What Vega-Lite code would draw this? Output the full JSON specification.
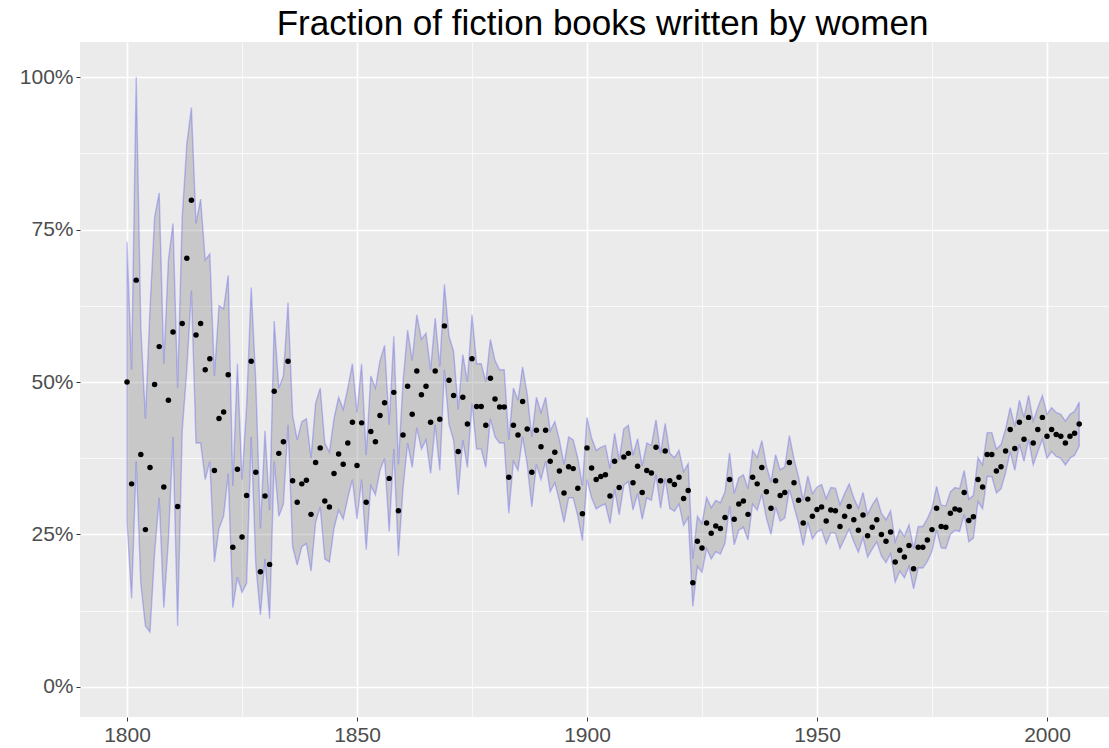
{
  "$schema": "https://vega.github.io/schema/vega-lite/v6.json",
  "width": 1029,
  "height": 675,
  "autosize": {"type": "none"},
  "padding": {"left": 80, "top": 42, "right": 0, "bottom": 31},
  "background": "white",
  "title": {
    "text": "Fraction of fiction books written by women",
    "font": "Liberation Sans",
    "fontSize": 35,
    "fontWeight": "normal",
    "color": "#000000",
    "anchor": "middle",
    "baseline": "alphabetic",
    "offset": 0,
    "dx": 8,
    "dy": 28
  },
  "config": {
    "view": {"fill": "#EBEBEB", "stroke": null},
    "axis": {
      "labelFont": "Liberation Sans",
      "labelFontSize": 21,
      "labelColor": "#4D4D4D",
      "domain": false,
      "tickSize": 4,
      "tickWidth": 1,
      "labelPadding": 3,
      "title": null
    }
  },
  "data": {
    "values": [
      {"year":1800,"p":50.0,"lo":27,"hi":73},
      {"year":1801,"p":33.3,"lo":14.5,"hi":52},
      {"year":1802,"p":66.7,"lo":37,"hi":100},
      {"year":1803,"p":38.1,"lo":17,"hi":59},
      {"year":1804,"p":25.8,"lo":10,"hi":44},
      {"year":1805,"p":36.0,"lo":9,"hi":62},
      {"year":1806,"p":49.6,"lo":22,"hi":77},
      {"year":1807,"p":55.8,"lo":31,"hi":81},
      {"year":1808,"p":32.8,"lo":13,"hi":53},
      {"year":1809,"p":47.0,"lo":24,"hi":70},
      {"year":1810,"p":58.2,"lo":41,"hi":76},
      {"year":1811,"p":29.6,"lo":10,"hi":49},
      {"year":1812,"p":59.6,"lo":42,"hi":77},
      {"year":1813,"p":70.3,"lo":52,"hi":89},
      {"year":1814,"p":79.8,"lo":65,"hi":95},
      {"year":1815,"p":57.7,"lo":40,"hi":76},
      {"year":1816,"p":59.6,"lo":40,"hi":80},
      {"year":1817,"p":52.0,"lo":34,"hi":70},
      {"year":1818,"p":53.8,"lo":37,"hi":71},
      {"year":1819,"p":35.5,"lo":20.5,"hi":51},
      {"year":1820,"p":44.0,"lo":26,"hi":62.5},
      {"year":1821,"p":45.1,"lo":28,"hi":62},
      {"year":1822,"p":51.2,"lo":35,"hi":67.5},
      {"year":1823,"p":22.9,"lo":13,"hi":33},
      {"year":1824,"p":35.7,"lo":18,"hi":53},
      {"year":1825,"p":24.6,"lo":15.5,"hi":34},
      {"year":1826,"p":31.4,"lo":17,"hi":46},
      {"year":1827,"p":53.4,"lo":41,"hi":65.5},
      {"year":1828,"p":35.2,"lo":20,"hi":50},
      {"year":1829,"p":18.9,"lo":11.8,"hi":26},
      {"year":1830,"p":31.3,"lo":21,"hi":42},
      {"year":1831,"p":20.1,"lo":11.2,"hi":29},
      {"year":1832,"p":48.5,"lo":37,"hi":60},
      {"year":1833,"p":38.3,"lo":28,"hi":49},
      {"year":1834,"p":40.2,"lo":30,"hi":51},
      {"year":1835,"p":53.4,"lo":43,"hi":63},
      {"year":1836,"p":33.8,"lo":23,"hi":44.5},
      {"year":1837,"p":30.3,"lo":20,"hi":40.5},
      {"year":1838,"p":33.3,"lo":23,"hi":43.5},
      {"year":1839,"p":33.9,"lo":23.5,"hi":44},
      {"year":1840,"p":28.3,"lo":19,"hi":37.5},
      {"year":1841,"p":36.8,"lo":27,"hi":46.5},
      {"year":1842,"p":39.2,"lo":29.5,"hi":49},
      {"year":1843,"p":30.5,"lo":21,"hi":40},
      {"year":1844,"p":29.5,"lo":20.5,"hi":38.5},
      {"year":1845,"p":35.0,"lo":26,"hi":44},
      {"year":1846,"p":38.2,"lo":29,"hi":47.5},
      {"year":1847,"p":36.5,"lo":27.5,"hi":45.5},
      {"year":1848,"p":40.0,"lo":31,"hi":49},
      {"year":1849,"p":43.4,"lo":34,"hi":53},
      {"year":1850,"p":36.3,"lo":27.5,"hi":45},
      {"year":1851,"p":43.3,"lo":34,"hi":53},
      {"year":1852,"p":30.3,"lo":22.5,"hi":38},
      {"year":1853,"p":41.9,"lo":33,"hi":51},
      {"year":1854,"p":40.2,"lo":31.5,"hi":49},
      {"year":1855,"p":44.5,"lo":35.5,"hi":53.5},
      {"year":1856,"p":46.6,"lo":37.5,"hi":56},
      {"year":1857,"p":34.2,"lo":25.5,"hi":43},
      {"year":1858,"p":48.3,"lo":39,"hi":57.5},
      {"year":1859,"p":28.9,"lo":21.5,"hi":36.5},
      {"year":1860,"p":41.3,"lo":32.5,"hi":50},
      {"year":1861,"p":49.3,"lo":40,"hi":58.5},
      {"year":1862,"p":44.7,"lo":36,"hi":53.5},
      {"year":1863,"p":51.8,"lo":42.5,"hi":61},
      {"year":1864,"p":47.9,"lo":39,"hi":57},
      {"year":1865,"p":49.3,"lo":40.5,"hi":58},
      {"year":1866,"p":43.4,"lo":35,"hi":52},
      {"year":1867,"p":51.8,"lo":43,"hi":60.5},
      {"year":1868,"p":43.9,"lo":35.5,"hi":52.5},
      {"year":1869,"p":59.2,"lo":52,"hi":66},
      {"year":1870,"p":50.3,"lo":43,"hi":57.5},
      {"year":1871,"p":47.8,"lo":40.5,"hi":55},
      {"year":1872,"p":38.6,"lo":31.5,"hi":45.5},
      {"year":1873,"p":47.5,"lo":40.5,"hi":54.5},
      {"year":1874,"p":43.1,"lo":36,"hi":50},
      {"year":1875,"p":53.8,"lo":46.5,"hi":61},
      {"year":1876,"p":46.0,"lo":39,"hi":53},
      {"year":1877,"p":46.0,"lo":39,"hi":53},
      {"year":1878,"p":42.9,"lo":36,"hi":50},
      {"year":1879,"p":50.6,"lo":44,"hi":57},
      {"year":1880,"p":47.2,"lo":41,"hi":53.5},
      {"year":1881,"p":45.9,"lo":40,"hi":52},
      {"year":1882,"p":45.9,"lo":40,"hi":52},
      {"year":1883,"p":34.4,"lo":28.5,"hi":40.5},
      {"year":1884,"p":42.9,"lo":37,"hi":49},
      {"year":1885,"p":41.3,"lo":35.5,"hi":47},
      {"year":1886,"p":46.8,"lo":41,"hi":52.5},
      {"year":1887,"p":42.3,"lo":36.5,"hi":48},
      {"year":1888,"p":35.2,"lo":29.5,"hi":41},
      {"year":1889,"p":42.1,"lo":36.5,"hi":47.5},
      {"year":1890,"p":39.4,"lo":34,"hi":45},
      {"year":1891,"p":42.1,"lo":37,"hi":47.5},
      {"year":1892,"p":37.0,"lo":32,"hi":42},
      {"year":1893,"p":38.5,"lo":33.5,"hi":43.5},
      {"year":1894,"p":35.4,"lo":30.5,"hi":40.5},
      {"year":1895,"p":31.8,"lo":27,"hi":36.5},
      {"year":1896,"p":36.1,"lo":31,"hi":41},
      {"year":1897,"p":35.8,"lo":31,"hi":40.5},
      {"year":1898,"p":32.6,"lo":28,"hi":37.5},
      {"year":1899,"p":28.4,"lo":24,"hi":33},
      {"year":1900,"p":39.2,"lo":34,"hi":44.2},
      {"year":1901,"p":35.9,"lo":31,"hi":40.8},
      {"year":1902,"p":34.0,"lo":29.2,"hi":38.8},
      {"year":1903,"p":34.5,"lo":29.7,"hi":39.3},
      {"year":1904,"p":34.8,"lo":30,"hi":39.6},
      {"year":1905,"p":31.3,"lo":26.8,"hi":35.8},
      {"year":1906,"p":37.0,"lo":32.4,"hi":41.6},
      {"year":1907,"p":32.7,"lo":28.2,"hi":37.2},
      {"year":1908,"p":37.7,"lo":33.1,"hi":42.3},
      {"year":1909,"p":38.3,"lo":33.7,"hi":42.9},
      {"year":1910,"p":33.5,"lo":29,"hi":38},
      {"year":1911,"p":36.2,"lo":31.7,"hi":40.7},
      {"year":1912,"p":31.9,"lo":27.5,"hi":36.3},
      {"year":1913,"p":35.5,"lo":31,"hi":40},
      {"year":1914,"p":35.1,"lo":30.6,"hi":39.6},
      {"year":1915,"p":39.3,"lo":34.8,"hi":43.8},
      {"year":1916,"p":33.8,"lo":29.3,"hi":38.3},
      {"year":1917,"p":38.7,"lo":34.2,"hi":43.2},
      {"year":1918,"p":33.8,"lo":29.3,"hi":38.3},
      {"year":1919,"p":33.2,"lo":28.8,"hi":37.6},
      {"year":1920,"p":34.4,"lo":30,"hi":38.8},
      {"year":1921,"p":30.9,"lo":26.5,"hi":35.3},
      {"year":1922,"p":32.2,"lo":27.8,"hi":36.6},
      {"year":1923,"p":17.1,"lo":13.2,"hi":21},
      {"year":1924,"p":23.9,"lo":19.8,"hi":28},
      {"year":1925,"p":22.8,"lo":18.8,"hi":26.8},
      {"year":1926,"p":26.9,"lo":22.7,"hi":31.1},
      {"year":1927,"p":25.2,"lo":21,"hi":29.4},
      {"year":1928,"p":26.4,"lo":22.2,"hi":30.6},
      {"year":1929,"p":26.0,"lo":21.8,"hi":30.2},
      {"year":1930,"p":27.8,"lo":23.6,"hi":32},
      {"year":1931,"p":34.0,"lo":29.6,"hi":38.4},
      {"year":1932,"p":27.5,"lo":23.3,"hi":31.7},
      {"year":1933,"p":30.0,"lo":25.7,"hi":34.3},
      {"year":1934,"p":30.5,"lo":26.2,"hi":34.8},
      {"year":1935,"p":28.3,"lo":24.1,"hi":32.5},
      {"year":1936,"p":34.4,"lo":30,"hi":38.8},
      {"year":1937,"p":33.3,"lo":29,"hi":37.6},
      {"year":1938,"p":36.0,"lo":31.6,"hi":40.4},
      {"year":1939,"p":32.0,"lo":27.7,"hi":36.3},
      {"year":1940,"p":29.3,"lo":25,"hi":33.6},
      {"year":1941,"p":33.8,"lo":29.5,"hi":38.1},
      {"year":1942,"p":31.4,"lo":27.2,"hi":35.6},
      {"year":1943,"p":31.9,"lo":27.7,"hi":36.1},
      {"year":1944,"p":36.8,"lo":32.4,"hi":41.2},
      {"year":1945,"p":33.5,"lo":29.6,"hi":37.4},
      {"year":1946,"p":30.6,"lo":26.8,"hi":34.4},
      {"year":1947,"p":26.9,"lo":23.2,"hi":30.6},
      {"year":1948,"p":30.8,"lo":27,"hi":34.6},
      {"year":1949,"p":28.0,"lo":24.3,"hi":31.7},
      {"year":1950,"p":29.1,"lo":25.4,"hi":32.8},
      {"year":1951,"p":29.5,"lo":25.8,"hi":33.2},
      {"year":1952,"p":27.2,"lo":23.5,"hi":30.9},
      {"year":1953,"p":29.0,"lo":25.3,"hi":32.7},
      {"year":1954,"p":28.9,"lo":25.2,"hi":32.6},
      {"year":1955,"p":26.3,"lo":22.7,"hi":29.9},
      {"year":1956,"p":28.0,"lo":24.3,"hi":31.7},
      {"year":1957,"p":29.6,"lo":25.9,"hi":33.3},
      {"year":1958,"p":27.4,"lo":23.8,"hi":31},
      {"year":1959,"p":25.7,"lo":22.1,"hi":29.3},
      {"year":1960,"p":28.2,"lo":24.5,"hi":31.9},
      {"year":1961,"p":24.8,"lo":21.3,"hi":28.3},
      {"year":1962,"p":26.2,"lo":22.6,"hi":29.8},
      {"year":1963,"p":27.4,"lo":23.8,"hi":31},
      {"year":1964,"p":25.0,"lo":21.5,"hi":28.5},
      {"year":1965,"p":23.9,"lo":20.4,"hi":27.4},
      {"year":1966,"p":25.4,"lo":21.9,"hi":28.9},
      {"year":1967,"p":20.5,"lo":17.2,"hi":23.8},
      {"year":1968,"p":22.4,"lo":19,"hi":25.8},
      {"year":1969,"p":21.3,"lo":17.9,"hi":24.7},
      {"year":1970,"p":23.2,"lo":19.8,"hi":26.6},
      {"year":1971,"p":19.4,"lo":16.1,"hi":22.7},
      {"year":1972,"p":22.9,"lo":19.5,"hi":26.3},
      {"year":1973,"p":22.9,"lo":19.5,"hi":26.3},
      {"year":1974,"p":24.1,"lo":20.6,"hi":27.6},
      {"year":1975,"p":25.8,"lo":22.3,"hi":29.3},
      {"year":1976,"p":29.3,"lo":25.7,"hi":32.9},
      {"year":1977,"p":26.3,"lo":22.8,"hi":29.8},
      {"year":1978,"p":26.2,"lo":22.7,"hi":29.7},
      {"year":1979,"p":28.5,"lo":25,"hi":32},
      {"year":1980,"p":29.2,"lo":25.7,"hi":32.7},
      {"year":1981,"p":29.0,"lo":25.5,"hi":32.5},
      {"year":1982,"p":31.9,"lo":28.3,"hi":35.5},
      {"year":1983,"p":27.3,"lo":23.8,"hi":30.8},
      {"year":1984,"p":27.9,"lo":24.4,"hi":31.4},
      {"year":1985,"p":34.0,"lo":30.4,"hi":37.6},
      {"year":1986,"p":32.8,"lo":29.2,"hi":36.4},
      {"year":1987,"p":38.1,"lo":34.5,"hi":41.7},
      {"year":1988,"p":38.1,"lo":34.5,"hi":41.7},
      {"year":1989,"p":35.4,"lo":31.8,"hi":39},
      {"year":1990,"p":36.1,"lo":32.5,"hi":39.7},
      {"year":1991,"p":38.7,"lo":35.1,"hi":42.3},
      {"year":1992,"p":42.2,"lo":38.6,"hi":45.8},
      {"year":1993,"p":39.1,"lo":35.5,"hi":42.7},
      {"year":1994,"p":43.4,"lo":39.8,"hi":47},
      {"year":1995,"p":40.6,"lo":37,"hi":44.2},
      {"year":1996,"p":44.2,"lo":40.6,"hi":47.8},
      {"year":1997,"p":40.0,"lo":36.4,"hi":43.6},
      {"year":1998,"p":42.2,"lo":38.6,"hi":45.8},
      {"year":1999,"p":44.2,"lo":40.6,"hi":47.8},
      {"year":2000,"p":41.1,"lo":37.5,"hi":44.7},
      {"year":2001,"p":42.2,"lo":38.6,"hi":45.8},
      {"year":2002,"p":41.4,"lo":37.8,"hi":45},
      {"year":2003,"p":41.1,"lo":37.5,"hi":44.7},
      {"year":2004,"p":40.0,"lo":36.4,"hi":43.6},
      {"year":2005,"p":41.1,"lo":37.5,"hi":44.7},
      {"year":2006,"p":41.6,"lo":38,"hi":45.2},
      {"year":2007,"p":43.1,"lo":39.5,"hi":46.7}
    ]
  },
  "encoding": {
    "x": {
      "field": "year",
      "type": "quantitative",
      "scale": {"domain": [1789.78, 2013.48], "nice": false, "zero": false},
      "axis": {
        "values": [1800, 1825, 1850, 1875, 1900, 1925, 1950, 1975, 2000],
        "format": "d",
        "labelExpr": "datum.value % 50 === 0 ? datum.label : ''",
        "grid": true,
        "gridColor": "#FFFFFF",
        "gridWidth": {"condition": {"test": "datum.value % 50 !== 0", "value": 0.7}, "value": 1.6},
        "tickColor": {"condition": {"test": "datum.value % 50 !== 0", "value": "transparent"}, "value": "#333333"}
      }
    }
  },
  "layer": [
    {
      "mark": {
        "type": "area",
        "fill": "#808080",
        "fillOpacity": 0.32,
        "stroke": "#3030FF",
        "strokeOpacity": 0.28,
        "strokeWidth": 1.4,
        "interpolate": "linear"
      },
      "encoding": {
        "y": {
          "field": "lo",
          "type": "quantitative",
          "scale": {"domain": [-4.92, 105.74], "nice": false, "zero": false},
          "axis": {
            "values": [0, 12.5, 25, 37.5, 50, 62.5, 75, 87.5, 100],
            "labelExpr": "datum.value % 25 === 0 ? datum.value + '%' : ''",
            "grid": true,
            "gridColor": "#FFFFFF",
            "gridWidth": {"condition": {"test": "datum.value % 25 !== 0", "value": 0.7}, "value": 1.6},
            "tickColor": {"condition": {"test": "datum.value % 25 !== 0", "value": "transparent"}, "value": "#333333"}
          }
        },
        "y2": {"field": "hi"}
      }
    },
    {
      "mark": {"type": "point", "filled": true, "color": "#000000", "opacity": 1, "size": 30},
      "encoding": {
        "y": {"field": "p", "type": "quantitative"}
      }
    }
  ]
}
